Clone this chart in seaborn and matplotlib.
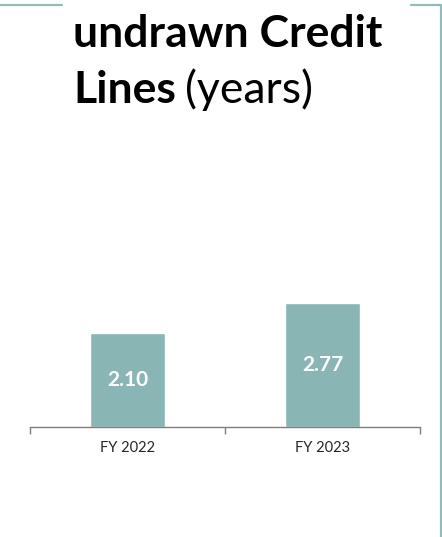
import matplotlib
matplotlib.use("Agg")
import matplotlib.pyplot as plt
import seaborn as sns
import pandas as pd
from matplotlib.lines import Line2D

categories = ["FY 2022", "FY 2023"]
values = [2.10, 2.77]
value_labels = ["2.10", "2.77"]

sns.set_theme(style="white")
plt.rcParams['font.family'] = ['Lato', 'DejaVu Sans']

W, H = 442, 537
fig = plt.figure(figsize=(W / 100, H / 100), dpi=100)
fig.patch.set_facecolor("white")

def fx(px):
    return px / W

def fy(py):
    return 1 - py / H

ax = fig.add_axes([fx(30), fy(427), fx(420) - fx(30), fy(270) - fy(427)])
df = pd.DataFrame({"cat": categories, "val": values})
bar_color = "#8AB5B5"
sns.barplot(data=df, x="cat", y="val", color=bar_color, width=0.385, saturation=1, ax=ax)
ax.set_ylim(0, 3.5)
ax.set_xlim(-0.5, 1.5)
for s in ["top", "right", "left"]:
    ax.spines[s].set_visible(False)
ax.spines["bottom"].set_color("#7f7f7f")
ax.spines["bottom"].set_linewidth(1.0)
ax.set_yticks([])
ax.set_xlabel("")
ax.set_ylabel("")
ax.set_xticks([0, 1])
ax.set_xticklabels(categories, fontsize=10.5, color="#262626")
ax.tick_params(axis="x", which="major", length=0, pad=10)
ax.set_xticks([-0.5, 0.5, 1.5], minor=True)
ax.tick_params(axis="x", which="minor", length=5, width=1, color="#7f7f7f", direction="out", bottom=True)
ax.set_facecolor("none")

for i, (v, lab) in enumerate(zip(values, value_labels)):
    ax.text(i, v / 2, lab, ha="center", va="center", color="white",
            fontsize=15, fontweight="bold")

# Frame lines
frame_c = "#8FBDBD"
fig.add_artist(Line2D([fx(0), fx(62)], [fy(5), fy(5)], color=frame_c, lw=1.6))
fig.add_artist(Line2D([fx(411), fx(441)], [fy(5), fy(5)], color=frame_c, lw=1.6))
fig.add_artist(Line2D([fx(441), fx(441)], [fy(5), fy(537)], color=frame_c, lw=1.6))

# Title
fs = 32
t1 = fig.text(fx(73), fy(47), "undrawn Credit", fontsize=fs, fontweight="bold", color="black", ha="left", va="baseline")
t2 = fig.text(fx(73), fy(103), "Lines", fontsize=fs, fontweight="bold", color="black", ha="left", va="baseline")
fig.canvas.draw()
r = fig.canvas.get_renderer()
bb = t2.get_window_extent(renderer=r)
fig.text(bb.x1 / W + fx(9), fy(103), "(years)", fontsize=fs, fontweight="normal", color="black", ha="left", va="baseline")

fig.savefig("out.png", dpi=100, facecolor="white")
